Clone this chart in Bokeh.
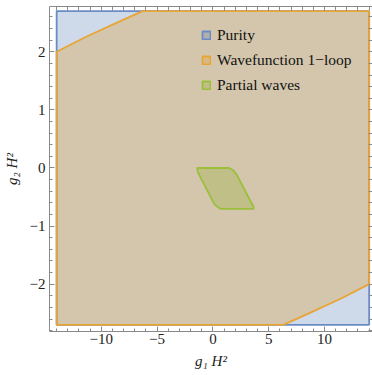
import numpy as np
from bokeh.plotting import figure
from bokeh.models import Range1d, LinearAxis, SingleIntervalTicker, FixedTicker, Legend, LegendItem
from bokeh.embed import file_html
from bokeh.resources import INLINE

# Purity region (g1 H^2, g2 H^2)
purity_x = [-14, 14, 14, -14]
purity_y = [-2.7, -2.7, 2.7, 2.7]

# Wavefunction 1-loop region
wave_x = [-14, -14, -11.4, -8.4, -6.3, 14, 14, 11.4, 8.4, 6.3]
wave_y = [-2.7, 2.0, 2.255, 2.52, 2.7, 2.7, -2.0, -2.255, -2.52, -2.7]

# Partial waves region
pw_x = [-1.42, 1.455, 1.82, 2.12, 3.42, 3.64, 3.64, 0.70, 0.33, 0.09, -1.33]
pw_y = [0.0, 0.0, -0.04, -0.11, -0.59, -0.66, -0.705, -0.705, -0.66, -0.61, -0.08]

x_ticks = [-10, -5, 0, 5, 10]
y_ticks = [-2, -1, 0, 1, 2]

BLUE = "#5E81B5"
ORANGE = "#E19C24"
GREEN = "#8FB032"
FONT = "Liberation Serif"
AXC = "#8a8a8a"

p = figure(width=372, height=371, output_backend="svg", toolbar_location=None,
           x_range=Range1d(-14.64, 14.3), y_range=Range1d(-2.815, 2.78),
           min_border_left=45, min_border_right=0, min_border_top=6, min_border_bottom=38)
p.xgrid.visible = False
p.ygrid.visible = False
p.outline_line_color = None
p.background_fill_color = "white"

r1 = p.patch(purity_x, purity_y, fill_color=BLUE, fill_alpha=0.3,
             line_color="#6A8CC6", line_width=1.8)
r2 = p.patch(wave_x, wave_y, fill_color=ORANGE, fill_alpha=0.3,
             line_color="#E8A535", line_width=1.8)
r3 = p.patch(pw_x, pw_y, fill_color=GREEN, fill_alpha=0.3,
             line_color="#9BBF3A", line_width=1.8)

def base(ax):
    ax.axis_line_color = AXC
    ax.major_tick_line_color = AXC
    ax.minor_tick_line_color = AXC
    ax.major_tick_in = 5
    ax.major_tick_out = 0
    ax.minor_tick_in = 3
    ax.minor_tick_out = 0

xlabels = {t: str(t).replace("-", "\u2212") for t in x_ticks}
ylabels = {t: str(t).replace("-", "\u2212") for t in y_ticks}

for ax, tk, lab, name in [(p.xaxis[0], SingleIntervalTicker(interval=5, num_minor_ticks=5), xlabels, "g\u2081 H\u00b2"),
                          (p.yaxis[0], SingleIntervalTicker(interval=1, num_minor_ticks=5), ylabels, "g\u2082 H\u00b2")]:
    base(ax)
    ax.ticker = tk
    ax.major_label_overrides = lab
    ax.major_label_text_font = FONT
    ax.major_label_text_font_size = "15px"
    ax.major_label_text_color = "#222222"
    ax.major_label_standoff = 2
    ax.axis_label = name
    ax.axis_label_text_font = FONT
    ax.axis_label_text_font_size = "15px"
    ax.axis_label_text_font_style = "italic"
    ax.axis_label_text_color = "#222222"
    ax.axis_label_standoff = 6
p.yaxis[0].major_label_standoff = 4
p.yaxis[0].axis_label_standoff = 7

# unlabelled frame ticks on top and right
x_frame_ticks = [float(v) for v in np.arange(-14, 15, 1)]
y_frame_ticks = [round(float(v), 1) for v in np.arange(-2.8, 2.81, 0.2)]
for loc, ticks in [("above", x_frame_ticks), ("right", y_frame_ticks)]:
    a = LinearAxis(ticker=FixedTicker(ticks=[], minor_ticks=ticks))
    base(a)
    a.minor_tick_in = 4
    a.major_label_standoff = 0
    p.add_layout(a, loc)

legend = Legend(items=[LegendItem(label="Purity", renderers=[r1]),
                       LegendItem(label="Wavefunction 1\u2212loop", renderers=[r2]),
                       LegendItem(label="Partial waves", renderers=[r3])],
                location=(152, 237))
legend.label_text_font = FONT
legend.label_text_font_size = "15.5px"
legend.label_text_color = "#111111"
legend.glyph_width = 10
legend.glyph_height = 10
legend.label_standoff = 6
legend.label_height = 17
legend.spacing = 7
legend.padding = 0
legend.margin = 0
legend.background_fill_alpha = 0
legend.border_line_alpha = 0
p.add_layout(legend)

open("out.html", "w").write(file_html(p, INLINE))
